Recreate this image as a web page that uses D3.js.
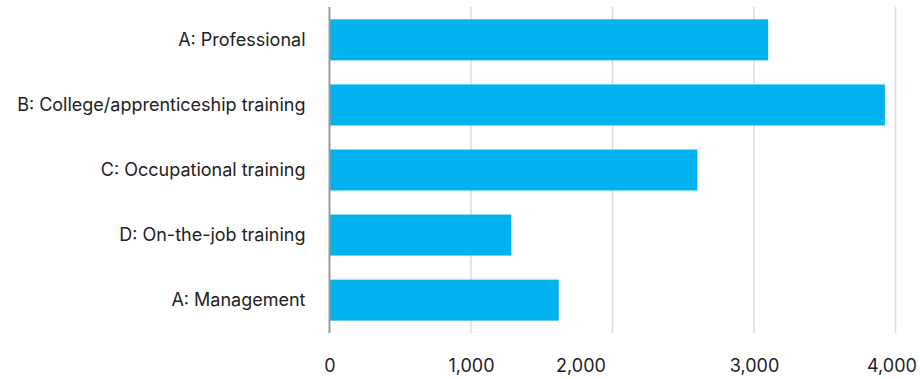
<!DOCTYPE html>
<html>
<head>
<meta charset="utf-8">
<script src="https://cdn.jsdelivr.net/npm/d3@7"></script>
<style>
  html, body { margin: 0; padding: 0; background: #fff; }
  svg { display: block; font-family: Inter, "Liberation Sans", Arial, sans-serif; }
</style>
</head>
<body>
<div id="chart"></div>
<script>
// data
const categories = [
  "A: Professional",
  "B: College/apprenticeship training",
  "C: Occupational training",
  "D: On-the-job training",
  "A: Management"
];
const values = [3100, 3925, 2600, 1285, 1620];
const xTicks = [0, 1000, 2000, 3000, 4000];

const width = 920;
const height = 379;
const margin = { top: 7, right: 24.5, bottom: 46, left: 329.5 };

const svg = d3.select("#chart")
  .append("svg")
  .attr("width", width)
  .attr("height", height);

const x = d3.scaleLinear()
  .domain([0, 4000])
  .range([margin.left, width - margin.right]);

const y = d3.scaleBand()
  .domain(categories)
  .range([margin.top, height - margin.bottom])
  .paddingInner(0.37)
  .paddingOuter(0.19);

// gridlines
svg.append("g")
  .selectAll("line")
  .data(xTicks.filter(d => d > 0))
  .join("line")
  .attr("x1", d => x(d))
  .attr("x2", d => x(d))
  .attr("y1", margin.top)
  .attr("y2", height - margin.bottom)
  .attr("stroke", "#dcdcdc")
  .attr("stroke-width", 1.5);

// bars
svg.append("g")
  .selectAll("rect")
  .data(values)
  .join("rect")
  .attr("x", x(0))
  .attr("y", (d, i) => y(categories[i]))
  .attr("width", d => x(d) - x(0))
  .attr("height", y.bandwidth())
  .attr("fill", "#00b2ee");

// baseline axis
svg.append("line")
  .attr("x1", x(0))
  .attr("x2", x(0))
  .attr("y1", margin.top)
  .attr("y2", height - margin.bottom)
  .attr("stroke", "#999")
  .attr("stroke-width", 2);

// y labels
const yAxis = svg.append("g")
  .attr("transform", `translate(${x(0) - 24},0)`)
  .call(d3.axisLeft(y).tickSize(0).tickPadding(0));
yAxis.select(".domain").remove();
yAxis.selectAll("text")
  .attr("font-size", 18)
  .attr("font-family", "Inter, \"Liberation Sans\", Arial, sans-serif")
  .attr("fill", "#222");

// x labels (a couple nudged like the original)
const nudge = { 2000: -32, 4000: -4 };
const xAxis = svg.append("g")
  .attr("transform", `translate(0,${height - margin.bottom})`)
  .call(d3.axisBottom(x).tickValues(xTicks).tickFormat(d3.format(",")).tickSize(0).tickPadding(26));
xAxis.select(".domain").remove();
xAxis.selectAll("text")
  .attr("dx", d => nudge[d] || 0)
  .attr("font-size", 18)
  .attr("font-family", "Inter, \"Liberation Sans\", Arial, sans-serif")
  .attr("fill", "#222");
</script>
</body>
</html>
